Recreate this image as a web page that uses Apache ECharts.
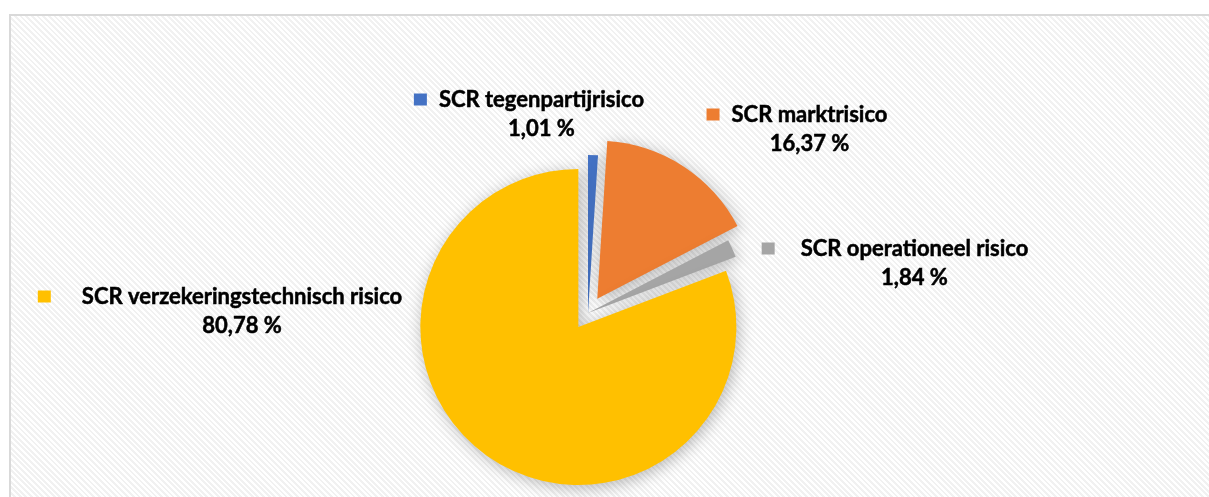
<!DOCTYPE html>
<html>
<head>
<meta charset="utf-8">
<script src="https://cdn.jsdelivr.net/npm/echarts@6/dist/echarts.min.js"></script>
<style>
  html, body { margin: 0; padding: 0; background: #fff; }
  .frame {
    position: absolute; left: 9px; top: 14px; width: 1300px; height: 600px;
    border: 2px solid #d9d9d9;
    background: repeating-linear-gradient(45deg, #ffffff 0px, #ffffff 2px, #f1f1f1 2px, #f1f1f1 4px);
  }
  #chart { position: absolute; left: 0; top: 0; width: 1209px; height: 497px; }
</style>
</head>
<body>
<div class="frame"></div>
<div id="chart"></div>
<script>
  // SCR verdeling
  const categories = ['SCR tegenpartijrisico', 'SCR marktrisico', 'SCR operationeel risico', 'SCR verzekeringstechnisch risico']
  const values = [1.01, 16.37, 1.84, 80.78]
  const colors = ['#4472c4', '#ed7d31', '#a5a5a5', '#ffc000']
  const exploded = [false, true, false, true]

  // label block centres (px) and gap between key and text, as placed in the original
  const labelPos = [[529, 114], [797, 129], [895, 263], [220, 311]]
  const keyGap = [12, 12, 26, 31]

  const fmt = v => v.toFixed(2).replace('.', ',') + ' %'

  const txt = {
    fontFamily: 'Lato', fontWeight: 'bold', fontSize: 22, color: '#000', lineHeight: 29,
    textBorderColor: '#000', textBorderWidth: 0.5
  }
  const rich = { name: txt, val: txt }
  colors.forEach((c, i) => {
    rich['sq' + i] = { width: 13, height: 12, backgroundColor: c }
    rich['sp' + i] = { width: keyGap[i] }
    rich['pad' + i] = { width: 13 + keyGap[i] }
  })

  const pieData = categories.map((name, i) => ({
    name,
    value: values[i],
    selected: exploded[i],
    itemStyle: { color: colors[i] },
    select: { itemStyle: { color: colors[i] } }
  }))

  const chart = echarts.init(document.getElementById('chart'))
  chart.setOption({
    animation: false,
    backgroundColor: 'transparent',
    series: [{
      type: 'pie',
      center: [588, 313],
      radius: 158,
      startAngle: 90,
      clockwise: true,
      selectedMode: 'multiple',
      selectedOffset: 17,
      itemStyle: {
        shadowBlur: 16,
        shadowColor: 'rgba(0,0,0,0.28)',
        shadowOffsetX: 2,
        shadowOffsetY: 3
      },
      emphasis: { disabled: true },
      select: { itemStyle: { shadowBlur: 16, shadowColor: 'rgba(0,0,0,0.28)' } },
      label: { show: false },
      labelLine: { show: false },
      data: pieData
    }, {
      // labels only
      type: 'pie',
      center: [588, 313],
      radius: 158,
      silent: true,
      z: 1,
      avoidLabelOverlap: false,
      itemStyle: { color: 'transparent' },
      emphasis: { disabled: true },
      labelLine: { show: false },
      label: {
        show: true,
        position: 'outside',
        align: 'center',
        formatter: p => `{sq${p.dataIndex}|}{sp${p.dataIndex}|}{name|${p.name}}\n{pad${p.dataIndex}|}{val|${fmt(p.value)}}`,
        rich
      },
      labelLayout: p => ({
        x: labelPos[p.dataIndex][0],
        y: labelPos[p.dataIndex][1],
        align: 'center',
        verticalAlign: 'middle'
      }),
      data: categories.map((name, i) => ({ name, value: values[i] }))
    }]
  })
</script>
</body>
</html>
